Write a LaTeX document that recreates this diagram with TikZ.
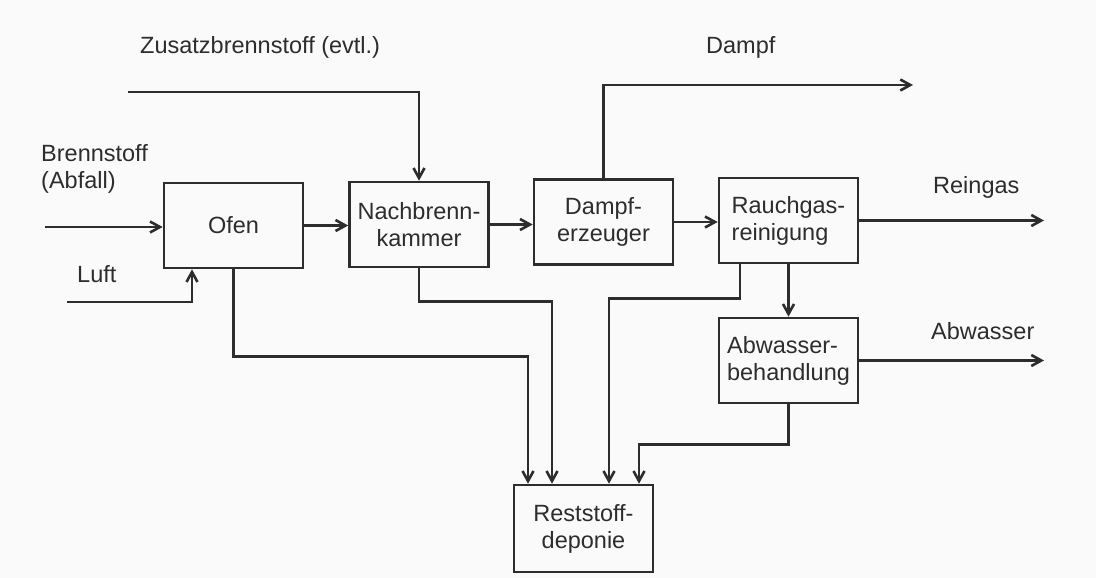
\documentclass[tikz,border=0pt]{standalone}
\usepackage{fontspec}
\setmainfont{Liberation Sans}
\usepackage{tikz}
\usetikzlibrary{
arrows.meta,
positioning,
calc
}
\definecolor{plotink}{RGB}{45,45,45}
\definecolor{paperbg}{RGB}{250,250,250}

\begin{document}
\begin{tikzpicture}[
  x=1pt, y=-1pt,
  >={Straight Barb[length=10pt,width=11pt]},
  every node/.style={font=\fontsize{23.5}{27}\selectfont, text=plotink},
  unit/.style={draw=plotink, line width=2.6pt,
               minimum width=139pt, minimum height=85pt,
               align=center, inner sep=2pt},
  flowtext/.style={anchor=west, align=left, inner sep=0pt},
  flowline/.style={->, draw=plotink, line width=2.6pt}
]

%% Paper
\fill[paperbg] (0,0) rectangle (1096,578);

%% Process units
\node[unit] (ofen) at (233.5,225.5) {Ofen};
\node[unit] (nach) at (419,224.5) {Nachbrenn-\\kammer};
\node[unit] (dampf) at (603.5,222) {Dampf-\\erzeuger};
\node[unit, align=left] (rauch) at (788.5,220.5) {Rauchgas-\\reinigung};
\node[unit, align=left] (abw) at (788.5,360.5) {Abwasser-\\behandlung};
\node[unit, minimum height=87pt] (rest) at (583.5,528.5)
  {Reststoff-\\deponie};

%% Free ends of the streams
\coordinate (zusin) at (128,92);
\coordinate (brennin) at (45,227);
\coordinate (luftin) at (67,302);
\coordinate (dampfout) at (913,85);
\coordinate (reinout) at (1044,220);
\coordinate (abwout) at (1044,358);

%% Stream labels
\node[flowtext] (zustxt) at (140,47) {Zusatzbrennstoff (evtl.)};
\node[flowtext] (dampftxt) at (706,47) {Dampf};
\node[flowtext] (brenntxt) at (41,169) {Brennstoff\\(Abfall)};
\node[flowtext] (lufttxt) at (77,274) {Luft};
\node[flowtext] (reintxt) at (933,187) {Reingas};
\node[flowtext] (abwtxt) at (931,331) {Abwasser};

%% Inputs
\draw[flowline] (brennin) -- (brennin -| ofen.west);
\draw[flowline] (luftin) -| ([xshift=-41.5pt]ofen.south);
\draw[flowline] (zusin) -| (nach.north);

%% Main gas path
\draw[flowline] (ofen.east) -- (ofen.east -| nach.west);
\draw[flowline] (nach.east) -- (nach.east -| dampf.west);
\draw[flowline] (dampf.east) -- (dampf.east -| rauch.west);
\draw[flowline] (rauch.east) -- (rauch.east -| reinout);
\draw[flowline] (rauch.south) -- (abw.north);

%% Outputs
\draw[flowline] (dampf.north) |- (dampfout);
\draw[flowline] (abw.east) -- (abw.east -| abwout);

%% Residues to the landfill
\draw[flowline] (ofen.south) -- ++(0,87) -| ([xshift=-55.5pt]rest.north);
\draw[flowline] (nach.south) -- ++(0,33) -| ([xshift=-31.5pt]rest.north);
\draw[flowline] ([xshift=-48.5pt]rauch.south) -- ++(0,34)
  -| ([xshift=25.5pt]rest.north);
\draw[flowline] (abw.south) -- ++(0,40) -| ([xshift=55.5pt]rest.north);

\end{tikzpicture}
\end{document}
